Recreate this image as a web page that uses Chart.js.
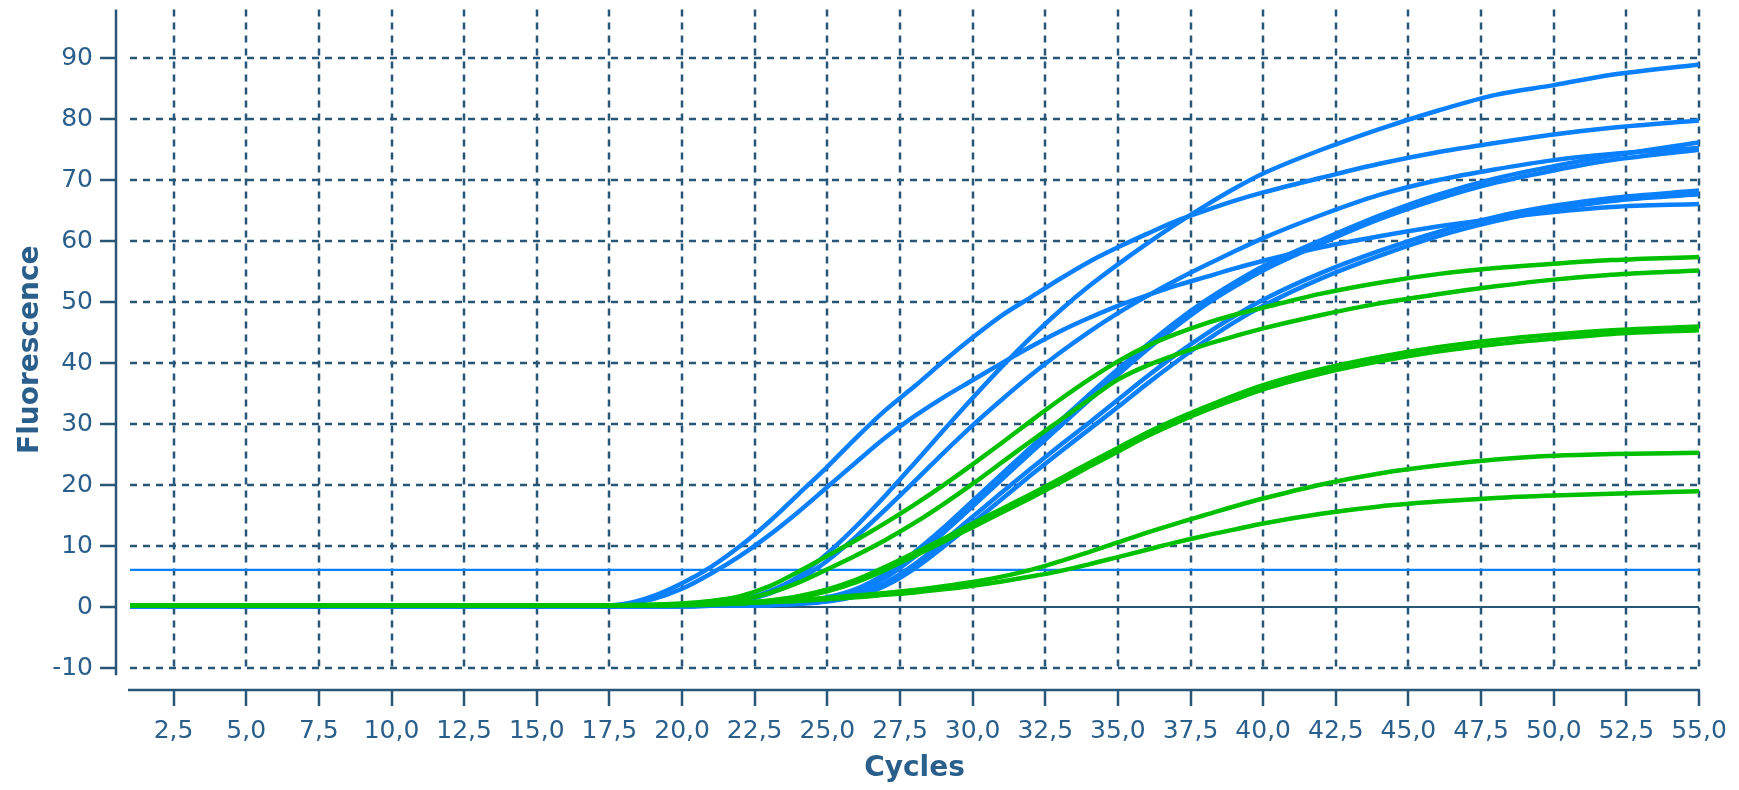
<!DOCTYPE html>
<html>
<head>
<meta charset="utf-8">
<title>Fluorescence vs Cycles</title>
<script src="https://cdn.jsdelivr.net/npm/chart.js@4.4.1/dist/chart.umd.min.js"></script>
<style>
  html, body { margin: 0; padding: 0; background: #fff; }
  #wrap { width: 1739px; height: 790px; }
</style>
</head>
<body>
<div id="wrap"><canvas id="chart" width="1739" height="790"></canvas></div>
<script>
const cycles = [1, 17, 18, 19, 20, 21, 22, 23, 24, 25, 26, 27, 28, 29, 30, 31, 32, 33, 34, 35, 36, 37, 38, 39, 40, 42, 44, 46, 48, 50, 52, 55];

// blue curves
const blueA = [0.2, 0.2, 0.5, 1.8, 3.9, 6.6, 10.0, 14.0, 18.5, 23.0, 27.8, 32.3, 36.2, 40.3, 44.2, 47.8, 50.8, 53.8, 56.6, 59.0, 61.2, 63.3, 65.0, 66.6, 68.0, 70.4, 72.7, 74.6, 76.1, 77.5, 78.6, 79.8];
const blueB = [0.2, 0.2, 0.4, 1.3, 3.0, 5.5, 8.4, 11.8, 15.6, 19.7, 23.8, 27.8, 31.3, 34.4, 37.2, 40.0, 42.7, 45.2, 47.4, 49.4, 51.1, 52.7, 54.1, 55.5, 56.8, 59.0, 60.8, 62.4, 63.7, 64.8, 65.6, 66.1];
const blueC = [0.1, 0.1, 0.1, 0.2, 0.3, 0.6, 1.2, 2.6, 5.0, 8.8, 13.3, 18.3, 23.6, 29.0, 34.3, 39.4, 44.2, 48.6, 52.6, 56.2, 59.6, 62.8, 65.8, 68.6, 71.1, 75.0, 78.4, 81.4, 84.0, 85.6, 87.3, 89.0];
const blueD = [0.1, 0.1, 0.1, 0.2, 0.3, 0.5, 1.0, 2.2, 4.4, 7.6, 11.6, 16.0, 20.6, 25.3, 29.8, 34.0, 38.0, 41.7, 45.1, 48.2, 51.0, 53.6, 56.0, 58.3, 60.5, 64.3, 67.6, 70.0, 71.8, 73.3, 74.3, 75.3];
const blueE = [0.1, 0.1, 0.1, 0.1, 0.2, 0.2, 0.3, 0.5, 0.9, 1.6, 3.0, 5.5, 9.0, 13.0, 17.4, 21.8, 26.2, 30.5, 34.8, 39.0, 43.0, 46.8, 50.2, 53.2, 55.9, 60.2, 64.2, 67.6, 70.3, 72.3, 74.0, 76.2];
const blueF = [0.1, 0.1, 0.1, 0.1, 0.2, 0.2, 0.3, 0.4, 0.7, 1.3, 2.6, 4.8, 8.2, 12.2, 16.5, 20.9, 25.3, 29.6, 33.9, 38.1, 42.2, 46.0, 49.5, 52.5, 55.2, 59.6, 63.6, 66.9, 69.6, 71.6, 73.3, 75.0];
const blueG = [0.1, 0.1, 0.1, 0.1, 0.1, 0.2, 0.2, 0.3, 0.6, 1.1, 2.1, 4.0, 7.0, 10.8, 14.8, 18.8, 22.7, 26.5, 30.2, 34.0, 37.8, 41.4, 44.7, 47.7, 50.4, 54.8, 58.4, 61.5, 64.0, 65.8, 67.1, 68.3];
const blueH = [0.1, 0.1, 0.1, 0.1, 0.1, 0.2, 0.2, 0.3, 0.5, 0.9, 1.8, 3.5, 6.3, 9.9, 13.8, 17.7, 21.6, 25.4, 29.1, 32.8, 36.6, 40.2, 43.6, 46.7, 49.4, 53.9, 57.6, 60.8, 63.3, 65.2, 66.6, 67.7];

// green curves
const greenA = [0.2, 0.2, 0.3, 0.4, 0.6, 1.0, 1.8, 3.4, 5.8, 8.4, 11.0, 13.8, 16.8, 20.0, 23.4, 26.9, 30.5, 34.0, 37.3, 40.3, 42.8, 44.8, 46.5, 47.9, 49.1, 51.4, 53.2, 54.6, 55.6, 56.3, 56.9, 57.4];
const greenB = [0.2, 0.2, 0.3, 0.4, 0.5, 0.7, 1.2, 2.3, 4.0, 6.2, 8.5, 11.0, 13.8, 16.9, 20.2, 23.7, 27.2, 30.6, 34.0, 37.3, 39.6, 41.4, 43.0, 44.4, 45.7, 47.9, 49.8, 51.3, 52.6, 53.7, 54.5, 55.2];
const greenC = [0.2, 0.2, 0.3, 0.3, 0.4, 0.5, 0.7, 1.1, 1.8, 2.9, 4.5, 6.6, 8.9, 11.2, 13.7, 16.1, 18.5, 21.0, 23.6, 26.1, 28.6, 30.8, 32.8, 34.7, 36.4, 39.0, 41.0, 42.6, 43.8, 44.7, 45.4, 46.0];
const greenD = [0.2, 0.2, 0.3, 0.3, 0.4, 0.5, 0.6, 1.0, 1.6, 2.6, 4.1, 6.1, 8.4, 10.7, 13.1, 15.5, 17.9, 20.4, 23.0, 25.5, 28.0, 30.2, 32.2, 34.0, 35.7, 38.3, 40.3, 41.9, 43.1, 44.0, 44.8, 45.4];
const greenE = [0.2, 0.2, 0.3, 0.3, 0.4, 0.5, 0.7, 0.9, 1.2, 1.5, 1.9, 2.3, 2.8, 3.4, 4.1, 5.0, 6.1, 7.5, 9.0, 10.6, 12.2, 13.7, 15.1, 16.5, 17.8, 20.1, 21.9, 23.2, 24.2, 24.8, 25.1, 25.3];
const greenF = [0.2, 0.2, 0.2, 0.3, 0.3, 0.4, 0.6, 0.8, 1.0, 1.3, 1.6, 2.0, 2.4, 2.9, 3.5, 4.2, 5.0, 5.9, 7.0, 8.2, 9.4, 10.6, 11.7, 12.7, 13.7, 15.3, 16.5, 17.3, 17.9, 18.3, 18.6, 19.0];

const thresholdCycles = [1, 55];
const thresholdValues = [6.1, 6.1];

const xTicks = [2.5, 5, 7.5, 10, 12.5, 15, 17.5, 20, 22.5, 25, 27.5, 30, 32.5, 35, 37.5, 40, 42.5, 45, 47.5, 50, 52.5, 55];
const yTicks = [-10, 0, 10, 20, 30, 40, 50, 60, 70, 80, 90];

const BLUE = '#0a80ff';
const GREEN = '#00c000';
const LINE = '#285677';
const TEXT = '#2a5e8b';

function curve(label, xs, ys, color, order, width) {
    return {
        label: label,
        data: xs.map((x, i) => ({ x: x, y: ys[i] })),
        borderColor: color,
        borderWidth: width || 4.5,
        pointRadius: 0,
        fill: false,
        cubicInterpolationMode: 'monotone',
        order: order
    };
}

// dashed grid and the detached axis lines, placed with the chart's own scales
const axesPlugin = {
    id: 'qpcrAxes',
    beforeDatasetsDraw(chart) {
        const ctx = chart.ctx;
        const xs = chart.scales.x;
        const ys = chart.scales.y;
        const area = chart.chartArea;
        const yLow = ys.getPixelForValue(-10);
        ctx.save();
        ctx.strokeStyle = LINE;
        ctx.lineWidth = 2.5;
        ctx.setLineDash([7, 6]);
        xTicks.forEach(v => {
            const px = Math.round(xs.getPixelForValue(v));
            ctx.beginPath();
            ctx.moveTo(px, area.top);
            ctx.lineTo(px, yLow + 3);
            ctx.stroke();
        });
        yTicks.forEach(v => {
            if (v === 0) return;
            const py = Math.round(ys.getPixelForValue(v));
            ctx.beginPath();
            ctx.moveTo(area.left, py);
            ctx.lineTo(area.right, py);
            ctx.stroke();
        });
        ctx.setLineDash([]);
        // zero line
        const y0 = Math.round(ys.getPixelForValue(0));
        ctx.lineWidth = 2;
        ctx.beginPath();
        ctx.moveTo(area.left, y0);
        ctx.lineTo(area.right, y0);
        ctx.stroke();
        // y axis
        ctx.lineWidth = 2.5;
        const ax = area.left - 14;
        ctx.beginPath();
        ctx.moveTo(ax, area.top);
        ctx.lineTo(ax, ys.getPixelForValue(-11.2));
        ctx.stroke();
        yTicks.forEach(v => {
            const py = Math.round(ys.getPixelForValue(v));
            ctx.beginPath();
            ctx.moveTo(ax - 16, py);
            ctx.lineTo(ax, py);
            ctx.stroke();
        });
        // x axis
        const ay = area.bottom;
        ctx.beginPath();
        ctx.moveTo(area.left - 2, ay);
        ctx.lineTo(area.right + 1, ay);
        ctx.stroke();
        xTicks.forEach(v => {
            const px = Math.round(xs.getPixelForValue(v));
            ctx.beginPath();
            ctx.moveTo(px, ay);
            ctx.lineTo(px, ay + 16);
            ctx.stroke();
        });
        ctx.restore();
    }
};

const datasets = [
    curve('Threshold', thresholdCycles, thresholdValues, BLUE, 3, 2.2),
    curve('Blue A', cycles, blueA, BLUE, 2),
    curve('Blue B', cycles, blueB, BLUE, 2),
    curve('Blue C', cycles, blueC, BLUE, 2),
    curve('Blue D', cycles, blueD, BLUE, 2),
    curve('Blue E', cycles, blueE, BLUE, 2),
    curve('Blue F', cycles, blueF, BLUE, 2),
    curve('Blue G', cycles, blueG, BLUE, 2),
    curve('Blue H', cycles, blueH, BLUE, 2),
    curve('Green A', cycles, greenA, GREEN, 1),
    curve('Green B', cycles, greenB, GREEN, 1),
    curve('Green C', cycles, greenC, GREEN, 1),
    curve('Green D', cycles, greenD, GREEN, 1),
    curve('Green E', cycles, greenE, GREEN, 1),
    curve('Green F', cycles, greenF, GREEN, 1)
];

new Chart(document.getElementById('chart'), {
    type: 'line',
    data: { datasets: datasets },
    options: {
        responsive: false,
        animation: false,
        layout: { padding: { top: 9, right: 40, left: 10, bottom: 0 } },
        plugins: {
            legend: { display: false },
            tooltip: { enabled: false }
        },
        scales: {
            x: {
                type: 'linear',
                min: 1,
                max: 55,
                afterBuildTicks: scale => { scale.ticks = xTicks.map(v => ({ value: v })); },
                afterFit: scale => { scale.height = 100; },
                // grid hidden (drawn by the plugin); tickLength only spaces the labels
                grid: { display: false, drawTicks: true, tickLength: 29 },
                border: { display: false },
                ticks: {
                    padding: 0,
                    maxRotation: 0,
                    autoSkip: false,
                    color: TEXT,
                    font: { family: 'DejaVu Sans', size: 25, lineHeight: 1 },
                    callback: v => Number(v).toFixed(1).replace('.', ',')
                },
                title: {
                    display: true,
                    text: 'Cycles',
                    color: TEXT,
                    padding: { top: 4, bottom: 4 },
                    font: { family: 'DejaVu Sans', size: 28, weight: 'bold' }
                }
            },
            y: {
                min: -13.6,
                max: 98,
                afterBuildTicks: scale => { scale.ticks = yTicks.map(v => ({ value: v })); },
                afterFit: scale => { scale.width = 120; },
                grid: { display: false, drawTicks: true, tickLength: 40 },
                border: { display: false },
                ticks: {
                    padding: -3,
                    color: TEXT,
                    font: { family: 'DejaVu Sans', size: 25, lineHeight: 1 }
                },
                title: {
                    display: true,
                    text: 'Fluorescence',
                    color: TEXT,
                    padding: { top: 4, bottom: 4 },
                    font: { family: 'DejaVu Sans', size: 28, weight: 'bold' }
                }
            }
        }
    },
    plugins: [axesPlugin]
});
</script>
</body>
</html>
